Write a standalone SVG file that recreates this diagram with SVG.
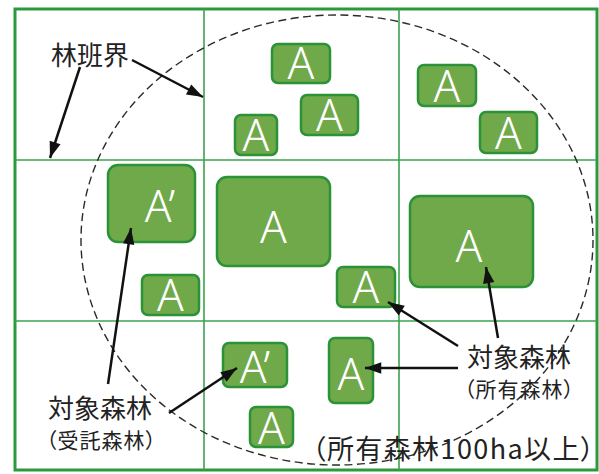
<svg xmlns="http://www.w3.org/2000/svg" width="599" height="474" viewBox="0 0 599 474">
<defs>
<style>
.frame{fill:none;stroke:#2a9a3c;stroke-width:3}
.grid{fill:none;stroke:#3aa34c;stroke-width:1.6}
.box{fill:#70a94a;stroke:#2b9238;stroke-width:2.5}
.a{fill:#ffffff;font-family:"Noto Sans","Liberation Sans",sans-serif;font-weight:300;font-size:44px;text-anchor:middle}
.lbl{fill:#222;font-family:"Noto Sans CJK JP","Noto Sans CJK SC",sans-serif}
.p{font-feature-settings:"palt"}
.arr{fill:none;stroke:#111;stroke-width:2.5}
.dash{fill:none;stroke:#2a2a2a;stroke-width:1.4;stroke-dasharray:8 4.5}
</style>
<marker id="ah" viewBox="0 0 10 10" refX="10" refY="5" markerWidth="7" markerHeight="6.5" markerUnits="strokeWidth" orient="auto">
<path d="M0,1.5 L10,5 L0,8.5 z" fill="#111"/>
</marker>
</defs>
<rect x="0" y="0" width="599" height="474" fill="#ffffff"/>
<g id="grid">
<rect class="frame" x="15" y="9" width="582" height="461"/>
<line class="grid" x1="204" y1="9" x2="204" y2="470"/>
<line class="grid" x1="399" y1="9" x2="399" y2="470"/>
<line class="grid" x1="15" y1="160" x2="597" y2="160"/>
<line class="grid" x1="15" y1="321" x2="597" y2="321"/>
</g>
<ellipse id="boundary" class="dash" cx="337" cy="240" rx="256" ry="225"/>
<g id="n1"><rect class="box" x="272" y="44" width="58" height="39" rx="6"/><text class="a" x="301" y="79">A</text></g>
<g id="n2"><rect class="box" x="301" y="95" width="57" height="40" rx="6"/><text class="a" x="329.5" y="131">A</text></g>
<g id="n3"><rect class="box" x="235" y="115" width="42" height="40" rx="6"/><text class="a" x="256" y="151">A</text></g>
<g id="n4"><rect class="box" x="418" y="65" width="58" height="41" rx="6"/><text class="a" x="447" y="102">A</text></g>
<g id="n5"><rect class="box" x="480" y="112" width="57" height="41" rx="6"/><text class="a" x="508.5" y="149">A</text></g>
<g id="n6"><rect class="box" x="108" y="165" width="87" height="77" rx="10"/><text class="a" x="160" y="222">A’</text></g>
<g id="n7"><rect class="box" x="217" y="177" width="113" height="89" rx="10"/><text class="a" x="273.5" y="243">A</text></g>
<g id="n8"><rect class="box" x="410" y="196" width="123" height="91" rx="10"/><text class="a" x="469" y="262">A</text></g>
<g id="n9"><rect class="box" x="142" y="275" width="57" height="40" rx="6"/><text class="a" x="170.5" y="311">A</text></g>
<g id="n10"><rect class="box" x="337" y="267" width="58" height="40" rx="6"/><text class="a" x="366" y="303">A</text></g>
<g id="n11"><rect class="box" x="223" y="343" width="64" height="44" rx="6"/><text class="a" x="255" y="383">A’</text></g>
<g id="n12"><rect class="box" x="329" y="338" width="44" height="65" rx="6"/><text class="a" x="351" y="390">A</text></g>
<g id="n13"><rect class="box" x="250" y="407" width="43" height="40" rx="6"/><text class="a" x="271.5" y="444">A</text></g>
<g id="connectors">
<line class="arr" x1="80" y1="67" x2="50" y2="158" marker-end="url(#ah)"/>
<line class="arr" x1="132" y1="60" x2="203" y2="97" marker-end="url(#ah)"/>
<line class="arr" x1="108" y1="384" x2="131" y2="228" marker-end="url(#ah)"/>
<line class="arr" x1="169" y1="413" x2="237" y2="368" marker-end="url(#ah)"/>
<line class="arr" x1="458" y1="346" x2="388" y2="302" marker-end="url(#ah)"/>
<line class="arr" x1="498" y1="338" x2="486" y2="267" marker-end="url(#ah)"/>
<line class="arr" x1="458" y1="368" x2="365" y2="368" marker-end="url(#ah)"/>
</g>
<g id="labels">
<text class="lbl" x="51" y="65" font-size="26">林班界</text>
<text class="lbl" x="48" y="418" font-size="26">対象森林</text>
<text class="lbl p" x="46" y="448" font-size="21" letter-spacing="1">（受託森林）</text>
<text class="lbl" x="467" y="367" font-size="26">対象森林</text>
<text class="lbl p" x="464" y="397" font-size="21" letter-spacing="1">（所有森林）</text>
<text class="lbl p" x="312" y="459" font-size="27" letter-spacing="1.4">（所有森林100ha以上）</text>
</g>
</svg>
